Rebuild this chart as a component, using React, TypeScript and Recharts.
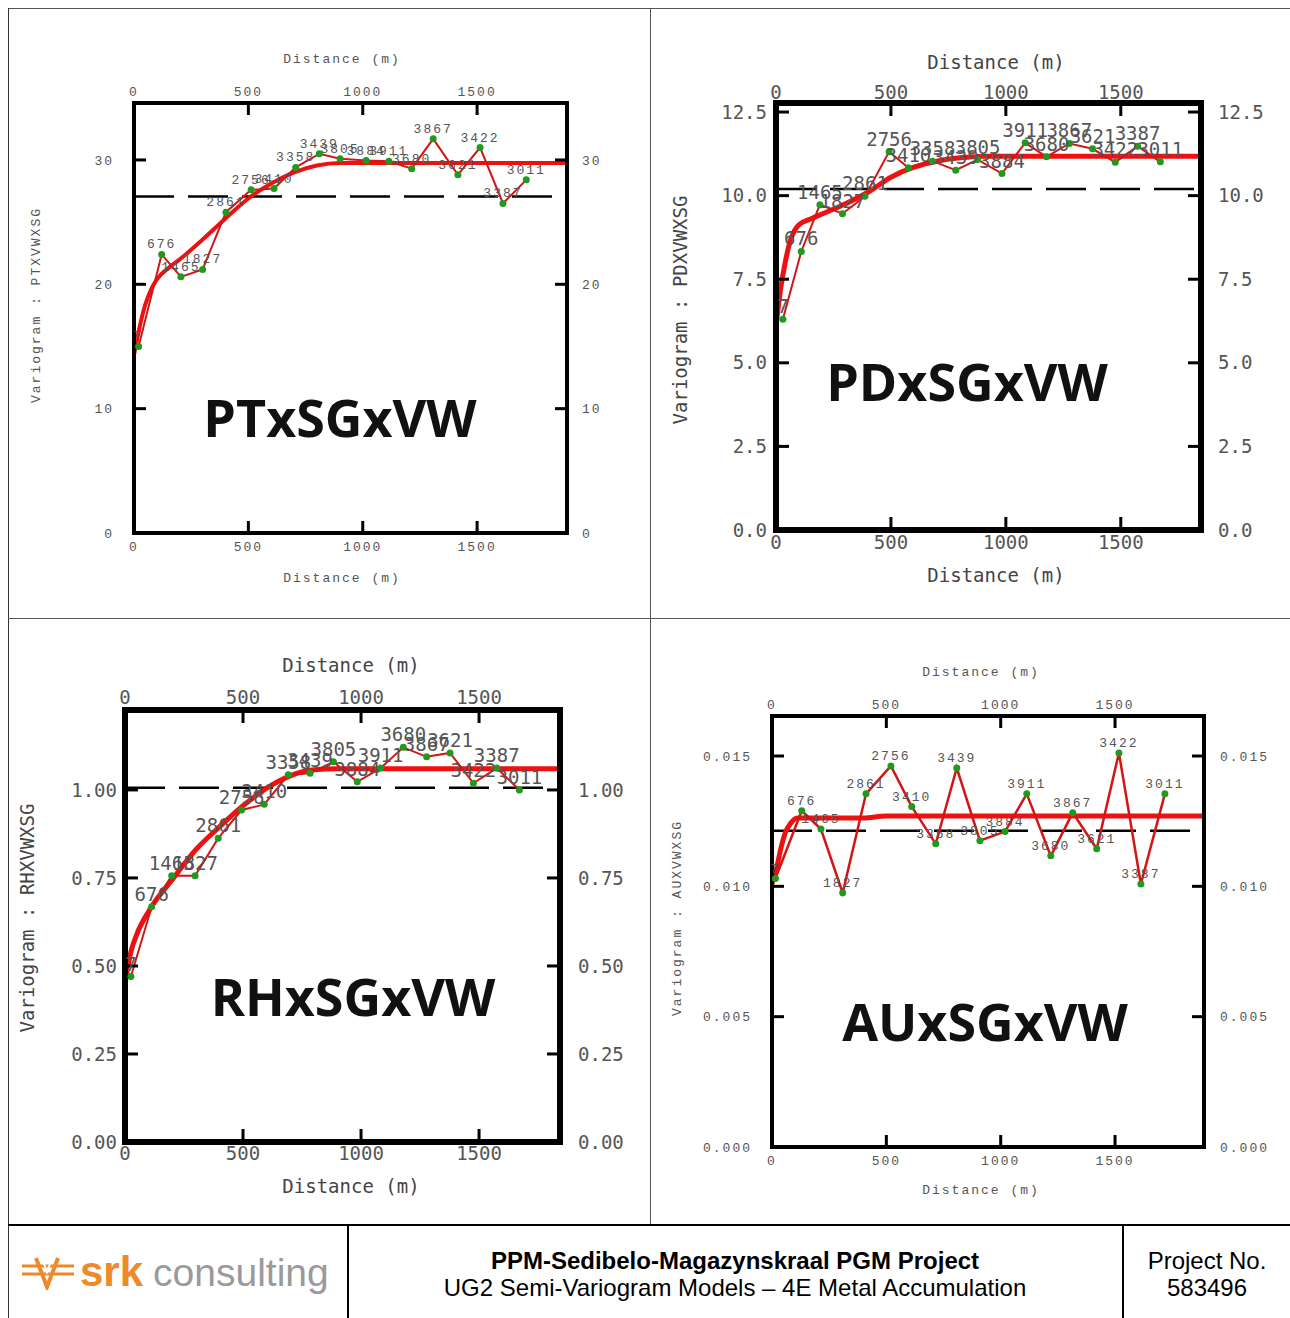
import React from "react";
import { ComposedChart, Line, XAxis, YAxis, ReferenceLine, LabelList } from "recharts";

// number of pairs per lag (same for all four variograms)
const pairCounts = [7, 676, 1465, 1827, 2861, 2756, 3410, 3358, 3439, 3805, 3884, 3911, 3680, 3867, 3621, 3422, 3387, 3011];

const distTicks = [0, 500, 1000, 1500];

// PT
const ptLag = [20, 121, 205, 300, 402, 512, 612, 707, 810, 901, 1015, 1114, 1214, 1308, 1416, 1513, 1613, 1715];
const ptGamma = [15.0, 22.4, 20.6, 21.2, 25.8, 27.6, 27.7, 29.4, 30.5, 30.1, 29.95, 29.9, 29.3, 31.7, 28.8, 31.0, 26.5, 28.4];
const ptModelX = [0, 25, 50, 75, 100, 150, 200, 300, 400, 500, 600, 700, 800, 900, 1000, 1893];
const ptModelY = [14.3, 16.6, 18.4, 19.6, 20.4, 21.3, 22.0, 23.6, 25.3, 26.9, 28.1, 29.0, 29.55, 29.75, 29.75, 29.75];
const ptSill = 27.06;
const ptTicks = [0, 10, 20, 30];

// PD
const pdLag = [30, 110, 191, 289, 387, 492, 576, 681, 782, 877, 983, 1084, 1177, 1276, 1377, 1476, 1573, 1672];
const pdGamma = [6.3, 8.33, 9.73, 9.46, 9.98, 11.31, 10.83, 11.03, 10.76, 11.08, 10.66, 11.58, 11.16, 11.56, 11.4, 11.0, 11.48, 11.01];
const pdModelX = [0, 20, 40, 60, 80, 100, 150, 200, 300, 400, 500, 600, 700, 800, 900, 1849];
const pdModelY = [6.1, 7.2, 8.0, 8.6, 8.95, 9.13, 9.3, 9.45, 9.75, 10.1, 10.55, 10.85, 11.03, 11.13, 11.18, 11.18];
const pdSill = 10.2;
const pdTicks = [0, 2.5, 5, 7.5, 10, 12.5];

// RH
const rhLag = [25, 113, 198, 297, 395, 494, 590, 692, 784, 883, 984, 1083, 1179, 1278, 1377, 1476, 1575, 1671];
const rhGamma = [0.47, 0.668, 0.756, 0.756, 0.863, 0.943, 0.959, 1.043, 1.047, 1.08, 1.023, 1.062, 1.121, 1.094, 1.105, 1.019, 1.062, 1.0];
const rhModelX = [0, 25, 50, 100, 200, 300, 400, 500, 600, 700, 800, 900, 1843];
const rhModelY = [0.45, 0.54, 0.59, 0.655, 0.745, 0.83, 0.895, 0.955, 1.005, 1.04, 1.057, 1.06, 1.06];
const rhSill = 1.006;
const rhTicks = [0, 0.25, 0.5, 0.75, 1.0];

// AU
const auLag = [15, 130, 214, 309, 411, 520, 611, 716, 808, 909, 1019, 1114, 1219, 1315, 1420, 1517, 1613, 1718];
const auGamma = [0.0103, 0.0129, 0.0122, 0.00975, 0.01355, 0.01462, 0.01306, 0.01163, 0.01454, 0.01175, 0.0121, 0.01355, 0.01117, 0.01282, 0.01144, 0.01512, 0.01009, 0.01355];
const auModelX = [0, 20, 40, 60, 80, 110, 400, 500, 1889];
const auModelY = [0.0101, 0.0107, 0.0115, 0.0121, 0.0124, 0.01262, 0.01262, 0.0127, 0.0127];
const auSill = 0.01213;
const auTicks = [0, 0.005, 0.01, 0.015];

const zip = (xs: number[], ys: number[], ns?: number[]) =>
  xs.map((x, i) => ({ x, y: ys[i], n: ns ? ns[i] : undefined }));

type Side = "top" | "bottom" | "left" | "right";

function makeTick(side: Side, margin: number, len: number, sw: number, txt: any, fmt: (v: number) => string) {
  return (p: any) => {
    const { x, y, payload } = p;
    let l = [x, y, x, y];
    let anchor = "middle";
    if (side === "bottom") {
      const a = y - margin;
      l = [x, a, x, a - len];
    } else if (side === "top") {
      const a = y + margin;
      l = [x, a, x, a + len];
    } else if (side === "left") {
      const a = x + margin;
      l = [a, y, a + len, y];
      anchor = "end";
    } else {
      const a = x - margin;
      l = [a, y, a - len, y];
      anchor = "start";
    }
    return (
      <g>
        <line x1={l[0]} y1={l[1]} x2={l[2]} y2={l[3]} stroke="#000" strokeWidth={sw} />
        <text x={x} y={y} dy="0.35em" textAnchor={anchor} {...txt}>
          {fmt(payload.value)}
        </text>
      </g>
    );
  };
}

const smallTxt = { fontFamily: "Liberation Mono", fontSize: 13, fill: "#555", style: { letterSpacing: 2 } };
const bigTxt = { fontFamily: "DejaVu Sans Mono", fontSize: 19, fill: "#555", style: {} };

const panels = [
  {
    name: "PTxSGxVW", ylab: "Variogram : PTXVWXSG",
    box: { x: 9, y: 9, w: 640, h: 608 }, plot: { l: 134, r: 567, t: 103, b: 533 },
    xMax: 1893, yMax: 34.58, yTicks: ptTicks, fmt: (v: number) => String(v),
    exp: zip(ptLag, ptGamma, pairCounts), model: zip(ptModelX, ptModelY), sill: ptSill,
    frame: 4, tl: 12, tsw: 3, m: { l: 20, r: 15, t: 12, b: 13 }, txt: smallTxt, big: false,
    title: { x: 340, y: 416 }, xt: { x: 342, top: 59, bot: 578 }, yt: { x: 36, y: 305 },
    thick: 4, thin: 2,
  },
  {
    name: "PDxSGxVW", ylab: "Variogram : PDXVWXSG",
    box: { x: 651, y: 9, w: 639, h: 608 }, plot: { l: 776, r: 1201, t: 103, b: 530 },
    xMax: 1849, yMax: 12.77, yTicks: pdTicks, fmt: (v: number) => v.toFixed(1),
    exp: zip(pdLag, pdGamma, pairCounts), model: zip(pdModelX, pdModelY), sill: pdSill,
    frame: 6, tl: 13, tsw: 3, m: { l: 9, r: 17, t: 11, b: 12 }, txt: bigTxt, big: true,
    title: { x: 967, y: 380 }, xt: { x: 996, top: 62, bot: 575 }, yt: { x: 680, y: 310 },
    thick: 5, thin: 2,
  },
  {
    name: "RHxSGxVW", ylab: "Variogram : RHXVWXSG",
    box: { x: 9, y: 619, w: 640, h: 605 }, plot: { l: 125, r: 560, t: 710, b: 1142 },
    xMax: 1843, yMax: 1.227, yTicks: rhTicks, fmt: (v: number) => v.toFixed(2),
    exp: zip(rhLag, rhGamma, pairCounts), model: zip(rhModelX, rhModelY), sill: rhSill,
    frame: 6, tl: 13, tsw: 3, m: { l: 8, r: 18, t: 13, b: 11 }, txt: bigTxt, big: true,
    title: { x: 353, y: 995 }, xt: { x: 351, top: 665, bot: 1186 }, yt: { x: 27, y: 918 },
    thick: 5, thin: 2,
  },
  {
    name: "AUxSGxVW", ylab: "Variogram : AUXVWXSG",
    box: { x: 651, y: 619, w: 639, h: 605 }, plot: { l: 772, r: 1204, t: 716, b: 1147 },
    xMax: 1889, yMax: 0.016535, yTicks: auTicks, fmt: (v: number) => v.toFixed(3),
    exp: zip(auLag, auGamma, pairCounts), model: zip(auModelX, auModelY), sill: auSill,
    frame: 4, tl: 12, tsw: 3, m: { l: 20, r: 16, t: 12, b: 13 }, txt: smallTxt, big: false,
    title: { x: 985, y: 1020 }, xt: { x: 981, top: 672, bot: 1190 }, yt: { x: 677, y: 918 },
    thick: 5, thin: 2.5,
  },
];

function Panel({ c }: { c: any }) {
  const { box, plot } = c;
  const leftW = plot.l - box.x;
  const rightW = box.x + box.w - plot.r;
  const topH = plot.t - box.y;
  const botH = box.y + box.h - plot.b;
  const axisLine = { stroke: "#000", strokeWidth: c.frame, strokeLinecap: "square" as const };
  const xf = (v: number) => String(v);
  const labFont = c.big
    ? { fontFamily: "DejaVu Sans Mono", fontSize: 19, color: "#444" }
    : { fontFamily: "Liberation Mono", fontSize: 13, color: "#555", letterSpacing: 2 };
  const rel = (x: number, y: number) => ({ left: x - box.x, top: y - box.y });
  return (
    <div style={{ position: "absolute", left: box.x, top: box.y, width: box.w, height: box.h }}>
      <ComposedChart width={box.w} height={box.h} margin={{ top: 0, right: 0, bottom: 0, left: 0 }}>
        <XAxis xAxisId="b" type="number" dataKey="x" orientation="bottom" domain={[0, c.xMax]} allowDataOverflow
          ticks={distTicks} interval={0} height={botH} tickSize={0} tickLine={false} tickMargin={c.m.b}
          axisLine={axisLine} tick={makeTick("bottom", c.m.b, c.tl, c.tsw, c.txt, xf)} />
        <XAxis xAxisId="t" type="number" dataKey="x" orientation="top" domain={[0, c.xMax]} allowDataOverflow
          ticks={distTicks} interval={0} height={topH} tickSize={0} tickLine={false} tickMargin={c.m.t}
          axisLine={axisLine} tick={makeTick("top", c.m.t, c.tl, c.tsw, c.txt, xf)} />
        <YAxis yAxisId="l" type="number" dataKey="y" orientation="left" domain={[0, c.yMax]} allowDataOverflow
          ticks={c.yTicks} interval={0} width={leftW} tickSize={0} tickLine={false} tickMargin={c.m.l}
          axisLine={axisLine} tick={makeTick("left", c.m.l, c.tl, c.tsw, c.txt, c.fmt)} />
        <YAxis yAxisId="r" type="number" dataKey="y" orientation="right" domain={[0, c.yMax]} allowDataOverflow
          ticks={c.yTicks} interval={0} width={rightW} tickSize={0} tickLine={false} tickMargin={c.m.r}
          axisLine={axisLine} tick={makeTick("right", c.m.r, c.tl, c.tsw, c.txt, c.fmt)} />
        <ReferenceLine xAxisId="b" yAxisId="l" y={c.sill} stroke="#000" strokeWidth={2.5} strokeDasharray="40 14" />
        <Line xAxisId="b" yAxisId="l" data={c.model} dataKey="y" type="monotone" stroke="#ee1111"
          strokeWidth={c.thick} dot={false} activeDot={false} isAnimationActive={false} />
        <Line xAxisId="b" yAxisId="l" data={c.exp} dataKey="y" type="linear" stroke="#d41515"
          strokeWidth={c.thin} dot={{ r: 3.5, fill: "#1f9a1f", stroke: "none" }} activeDot={false}
          isAnimationActive={false}>
          <LabelList dataKey="n" position="top" offset={6} fontFamily={c.txt.fontFamily}
            fontSize={c.txt.fontSize} fill={c.txt.fill} style={c.txt.style} />
        </Line>
      </ComposedChart>
      <div style={{ position: "absolute", ...rel(c.xt.x, c.xt.top), transform: "translate(-50%,-50%)", whiteSpace: "nowrap", ...labFont }}>
        Distance (m)
      </div>
      <div style={{ position: "absolute", ...rel(c.xt.x, c.xt.bot), transform: "translate(-50%,-50%)", whiteSpace: "nowrap", ...labFont }}>
        Distance (m)
      </div>
      <div style={{ position: "absolute", ...rel(c.yt.x, c.yt.y), transform: "translate(-50%,-50%) rotate(-90deg)", whiteSpace: "nowrap", ...labFont }}>
        {c.ylab}
      </div>
      <div style={{ position: "absolute", ...rel(c.title.x, c.title.y), transform: "translate(-50%,-50%)", whiteSpace: "nowrap",
        fontFamily: "Open Sans", fontWeight: 700, fontSize: 52, color: "#111" }}>
        {c.name}
      </div>
    </div>
  );
}

// page-coordinate rule
const line = (x: number, y: number, w: number, h: number, color: string) => (
  <div style={{ position: "absolute", left: x, top: y, width: w, height: h, background: color }} />
);

const footTxt = { fontFamily: "Liberation Sans", fontSize: 24, color: "#000" };

export default function App() {
  return (
    <div style={{ position: "absolute", left: 0, top: 0, width: 1290, height: 1318, background: "#fff", overflow: "hidden" }}>
      <style>{"html,body{overflow:hidden;margin:0}"}</style>
      {panels.map((c) => (
        <Panel key={c.name} c={c} />
      ))}
      {line(8, 8, 1282, 1, "#555")}
      {line(8, 8, 1, 1310, "#333")}
      {line(650, 8, 1, 1217, "#555")}
      {line(8, 618, 1282, 1, "#555")}
      {line(8, 1224, 1282, 2, "#000")}
      {line(347, 1225, 2, 93, "#000")}
      {line(1122, 1225, 2, 93, "#000")}
      {/* footer: logo */}
      <svg style={{ position: "absolute", left: 20, top: 1254 }} width={56} height={36}>
        <path d="M2 12 H54 M2 20 H54" stroke="#ee8a2a" strokeWidth={3} />
        <path d="M16 4 L27 33 L38 4" stroke="#ee8a2a" strokeWidth={4} fill="none" />
        <path d="M22 4 L27 18 L32 4" stroke="#fff" strokeWidth={2} fill="none" />
      </svg>
      <div style={{ position: "absolute", left: 80, top: 1272, transform: "translateY(-50%)", whiteSpace: "nowrap" }}>
        <span style={{ fontFamily: "Liberation Sans", fontWeight: 700, fontSize: 42, color: "#ee8a2a" }}>srk</span>
        <span style={{ fontFamily: "Liberation Sans", fontSize: 39, color: "#9a9a9a", marginLeft: 10 }}>consulting</span>
      </div>
      <div style={{ position: "absolute", left: 735, top: 1261, transform: "translate(-50%,-50%)", whiteSpace: "nowrap",
        ...footTxt, fontWeight: 700 }}>
        PPM-Sedibelo-Magazynskraal PGM Project
      </div>
      <div style={{ position: "absolute", left: 735, top: 1288, transform: "translate(-50%,-50%)", whiteSpace: "nowrap", ...footTxt }}>
        UG2 Semi-Variogram Models – 4E Metal Accumulation
      </div>
      <div style={{ position: "absolute", left: 1207, top: 1261, transform: "translate(-50%,-50%)", whiteSpace: "nowrap", ...footTxt }}>
        Project No.
      </div>
      <div style={{ position: "absolute", left: 1207, top: 1288, transform: "translate(-50%,-50%)", whiteSpace: "nowrap", ...footTxt }}>
        583496
      </div>
    </div>
  );
}
